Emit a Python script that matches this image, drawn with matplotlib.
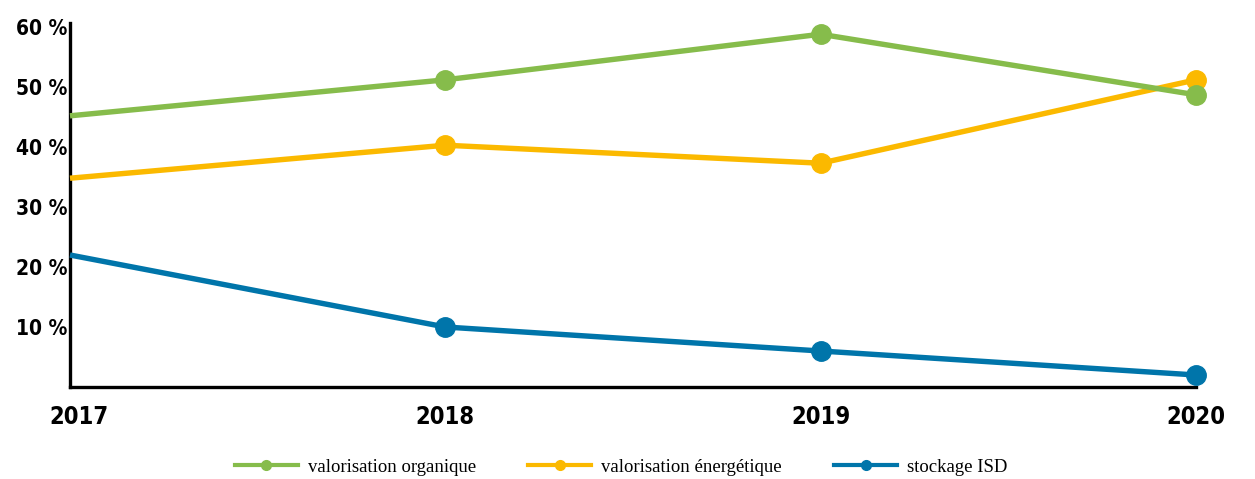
import matplotlib
matplotlib.use("Agg")
import matplotlib.pyplot as plt
from matplotlib.lines import Line2D
import matplotlib.transforms as mtransforms
from matplotlib import font_manager

years = [2017, 2018, 2019, 2020]
organique = [45.2, 51.2, 58.8, 48.7]
energetique = [34.8, 40.3, 37.3, 51.2]
stockage = [22.0, 10.0, 6.0, 2.0]
series_labels = ["valorisation organique", "valorisation énergétique", "stockage ISD"]
yticks = [10, 20, 30, 40, 50, 60]
ytick_labels = ["10 %", "20 %", "30 %", "40 %", "50 %", "60 %"]

GREEN = "#86BC4B"
YELLOW = "#FBB900"
BLUE = "#0075AA"

names = sorted(set((f.name, f.stretch, f.weight) for f in font_manager.fontManager.ttflist))
print([n for n in names if "Condensed" in n[0] or n[1] != "normal" or "Narrow" in n[0]])

fig = plt.figure(figsize=(12.55, 4.79), dpi=100)
ax = fig.add_axes([70/1255, 1-387/479, (1196-70)/1255, (387-23)/479])

for vals, col, z in [(energetique, YELLOW, 3), (organique, GREEN, 4), (stockage, BLUE, 5)]:
    ax.plot(years, vals, color=col, lw=3.9, marker="o", markersize=14,
            markevery=[1, 2, 3], clip_on=False, zorder=z, solid_capstyle="butt")

ax.set_xlim(2017, 2020)
ax.set_ylim(0, 60.67)
for s in ["top", "right"]:
    ax.spines[s].set_visible(False)
for s in ["left", "bottom"]:
    ax.spines[s].set_linewidth(2.4)
    ax.spines[s].set_color("black")
    ax.spines[s].set_zorder(2)

tickfont = ["DejaVu Sans"]
ax.set_yticks(yticks)
ax.set_yticklabels(ytick_labels, fontfamily=tickfont, fontweight="bold", fontstretch="condensed", fontsize=15)
ax.set_xticks(years)
ax.set_xticklabels([str(y) for y in years], fontfamily=tickfont, fontweight="bold", fontstretch="condensed", fontsize=17)
ax.tick_params(axis="y", length=0, pad=2)
ax.tick_params(axis="x", length=0, pad=13)

lbl0 = ax.get_xticklabels()[0]
lbl0.set_transform(lbl0.get_transform() + mtransforms.ScaledTranslation(9/100, 0, fig.dpi_scale_trans))

handles = [Line2D([0], [0], color=c, lw=3, marker="o", markersize=7) for c in (GREEN, YELLOW, BLUE)]
fig.legend(handles, series_labels, loc="center", bbox_to_anchor=(0.495, 0.025), ncol=3,
           frameon=False, handlelength=3.36, handletextpad=0.53, columnspacing=2.8,
           prop={"family": "Liberation Serif", "size": 13.5})

fig.savefig("out.png", dpi=100)
